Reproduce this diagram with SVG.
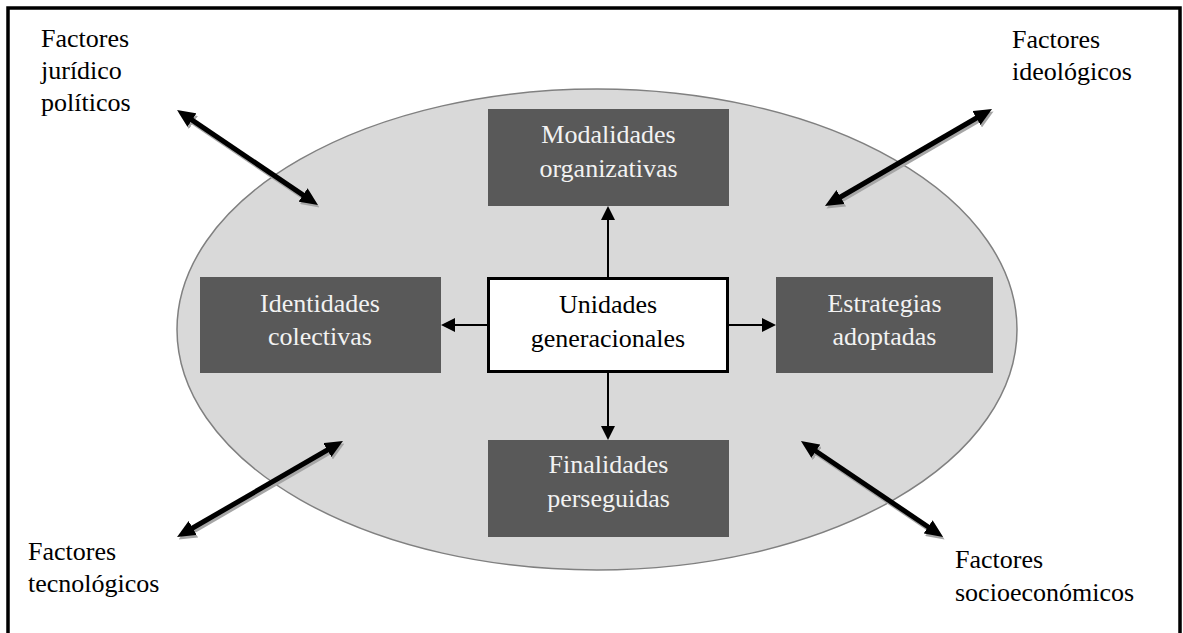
<svg xmlns="http://www.w3.org/2000/svg" width="1183" height="633" viewBox="0 0 1183 633">
<style>
.lbl{font-family:"Liberation Serif","Times New Roman",serif;font-size:26px;fill:#000}
.wl{font-family:"Liberation Serif","Times New Roman",serif;font-size:26px;fill:#f2f2f2;text-anchor:middle}
.bl{font-family:"Liberation Serif","Times New Roman",serif;font-size:26px;fill:#000;text-anchor:middle}
.box{fill:#595959}
.big{stroke:#000;stroke-width:5;fill:none;marker-start:url(#hb);marker-end:url(#hb)}
.bigs{stroke:#a6a6a6;stroke-width:5;fill:none;marker-start:url(#hs);marker-end:url(#hs)}
.sm{stroke:#000;stroke-width:2;fill:none;marker-end:url(#ha)}
</style>
<defs>
<marker id="hb" markerUnits="userSpaceOnUse" viewBox="0 0 18 16" markerWidth="18" markerHeight="16" refX="2" refY="8" orient="auto-start-reverse"><path d="M0,0 L18,8 L0,16 z" fill="#000"/></marker>
<marker id="hs" markerUnits="userSpaceOnUse" viewBox="0 0 18 16" markerWidth="18" markerHeight="16" refX="2" refY="8" orient="auto-start-reverse"><path d="M0,0 L18,8 L0,16 z" fill="#a6a6a6"/></marker>
<marker id="ha" markerUnits="userSpaceOnUse" viewBox="0 0 14 14" markerWidth="14" markerHeight="14" refX="1" refY="7" orient="auto"><path d="M0,0 L14,7 L0,14 z" fill="#000"/></marker>
</defs>
<rect width="1183" height="633" fill="#fff"/>
<path d="M8,633 V8 H1180 V633" fill="none" stroke="#000" stroke-width="3.5"/>
<g id="ellipse"><ellipse cx="597" cy="329.5" rx="420" ry="240.5" fill="#d9d9d9" stroke="#808080" stroke-width="1.5"/></g>
<g id="connectors">
<g transform="translate(1.5,2.5)">
<line class="bigs" x1="190.3" y1="118.9" x2="304.7" y2="196.1"/>
<line class="bigs" x1="978.2" y1="117" x2="838.8" y2="198"/>
<line class="bigs" x1="329.1" y1="449" x2="190.9" y2="529"/>
<line class="bigs" x1="814.2" y1="450" x2="929.8" y2="528"/>
</g>
<line class="big" x1="190.3" y1="118.9" x2="304.7" y2="196.1"/>
<line class="big" x1="978.2" y1="117" x2="838.8" y2="198"/>
<line class="big" x1="329.1" y1="449" x2="190.9" y2="529"/>
<line class="big" x1="814.2" y1="450" x2="929.8" y2="528"/>
<line class="sm" x1="608" y1="277" x2="608" y2="219"/>
<line class="sm" x1="487" y1="325" x2="454" y2="325"/>
<line class="sm" x1="729" y1="325" x2="763" y2="325"/>
<line class="sm" x1="608" y1="373" x2="608" y2="427"/>
</g>
<g id="modalidades"><rect class="box" x="488" y="109" width="241" height="97"/><text class="wl" x="608.5" y="143">Modalidades</text><text class="wl" x="608.5" y="177">organizativas</text></g>
<g id="identidades"><rect class="box" x="200" y="277" width="241" height="96"/><text class="wl" x="320" y="312">Identidades</text><text class="wl" x="320" y="345">colectivas</text></g>
<g id="estrategias"><rect class="box" x="776" y="277" width="217" height="96"/><text class="wl" x="884.5" y="312">Estrategias</text><text class="wl" x="884.5" y="345">adoptadas</text></g>
<g id="finalidades"><rect class="box" x="488" y="440" width="241" height="97"/><text class="wl" x="608.5" y="473">Finalidades</text><text class="wl" x="608.5" y="507">perseguidas</text></g>
<g id="unidades"><rect x="488.5" y="278.5" width="239" height="93" fill="#fff" stroke="#000" stroke-width="3"/><text class="bl" x="608" y="313">Unidades</text><text class="bl" x="608" y="347">generacionales</text></g>
<g id="f-juridico"><text class="lbl" x="41" y="47">Factores</text><text class="lbl" x="41" y="79">jurídico</text><text class="lbl" x="41" y="111">políticos</text></g>
<g id="f-ideologicos"><text class="lbl" x="1012" y="48">Factores</text><text class="lbl" x="1012" y="80">ideológicos</text></g>
<g id="f-tecnologicos"><text class="lbl" x="28" y="560">Factores</text><text class="lbl" x="28" y="592">tecnológicos</text></g>
<g id="f-socio"><text class="lbl" x="955" y="568">Factores</text><text class="lbl" x="955" y="601">socioeconómicos</text></g>
</svg>
